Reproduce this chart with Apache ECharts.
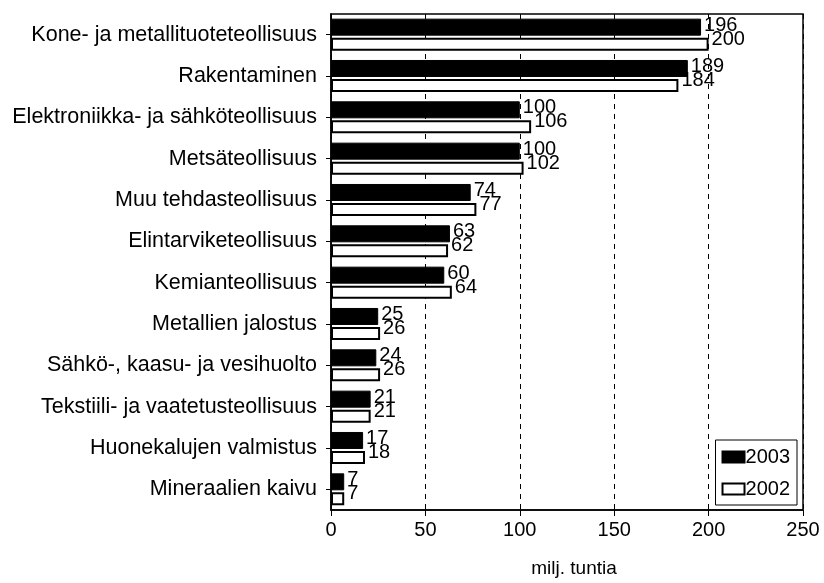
<!DOCTYPE html>
<html>
<head>
<meta charset="utf-8">
<script src="https://cdn.jsdelivr.net/npm/echarts@6/dist/echarts.min.js"></script>
<style>
  html, body { margin: 0; padding: 0; background: #fff; }
  #chart { width: 824px; height: 583px; }
</style>
</head>
<body>
<div id="chart"></div>
<script>
// toimialat ylhäältä alas
var categories = [
  "Kone- ja metallituoteteollisuus",
  "Rakentaminen",
  "Elektroniikka- ja sähköteollisuus",
  "Metsäteollisuus",
  "Muu tehdasteollisuus",
  "Elintarviketeollisuus",
  "Kemianteollisuus",
  "Metallien jalostus",
  "Sähkö-, kaasu- ja vesihuolto",
  "Tekstiili- ja vaatetusteollisuus",
  "Huonekalujen valmistus",
  "Mineraalien kaivu"
];
var values2003 = [196, 189, 100, 100, 74, 63, 60, 25, 24, 21, 17, 7];
var values2002 = [200, 184, 106, 102, 77, 62, 64, 26, 26, 21, 18, 7];
var xTicks = [0, 50, 100, 150, 200, 250];

var font = "'Liberation Sans', Arial, sans-serif";
var chart = echarts.init(document.getElementById("chart"));

var option = {
  backgroundColor: "#fff",
  animation: false,
  textStyle: { fontFamily: font, color: "#000" },
  grid: {
    left: 331,
    right: 21,
    top: 14,
    bottom: 69,
    show: true,
    borderColor: "#000",
    borderWidth: 1.5
  },
  legend: {
    data: ["2003", "2002"],
    orient: "vertical",
    right: 27,
    bottom: 78,
    padding: [7, 7, 6, 6],
    itemGap: 12,
    itemWidth: 22,
    itemHeight: 11,
    icon: "rect",
    borderColor: "#000",
    borderWidth: 1,
    textStyle: { fontFamily: font, fontSize: 20, color: "#000", padding: [0, 0, 0, -4] }
  },
  xAxis: {
    type: "value",
    min: xTicks[0],
    max: xTicks[xTicks.length - 1],
    interval: 50,
    name: "milj. tuntia",
    nameLocation: "middle",
    nameGap: 49,
    nameTextStyle: { fontFamily: font, fontSize: 19, color: "#000", padding: [0, 0, 0, 14] },
    axisLine: { show: true, lineStyle: { color: "#000", width: 1.5 } },
    axisTick: { show: true, length: 6, lineStyle: { color: "#000" } },
    axisLabel: { fontFamily: font, fontSize: 20, color: "#000", margin: 10 },
    splitLine: { show: true, lineStyle: { color: "#000", type: [5, 5], width: 1 } }
  },
  yAxis: {
    type: "category",
    inverse: true,
    data: categories,
    axisLine: { show: true, lineStyle: { color: "#000", width: 1.5 } },
    axisTick: { show: true, alignWithLabel: true, length: 5, lineStyle: { color: "#000" } },
    axisLabel: { fontFamily: font, fontSize: 21.5, color: "#000", margin: 14 }
  },
  series: [
    {
      name: "2003",
      type: "bar",
      data: values2003,
      barWidth: 17,
      barGap: "12%",
      itemStyle: { color: "#000", borderColor: "#000", borderWidth: 1 },
      label: {
        show: true,
        position: "right",
        distance: 3,
        offset: [0, -2],
        fontFamily: font,
        fontSize: 20,
        color: "#000"
      }
    },
    {
      name: "2002",
      type: "bar",
      data: values2002,
      barWidth: 13,
      itemStyle: { color: "#fff", borderColor: "#000", borderWidth: 2 },
      label: {
        show: true,
        position: "right",
        distance: 3,
        offset: [0, -5],
        fontFamily: font,
        fontSize: 20,
        color: "#000"
      }
    }
  ]
};

chart.setOption(option);
window.addEventListener("resize", function () {
  chart.resize();
});
</script>
</body>
</html>
